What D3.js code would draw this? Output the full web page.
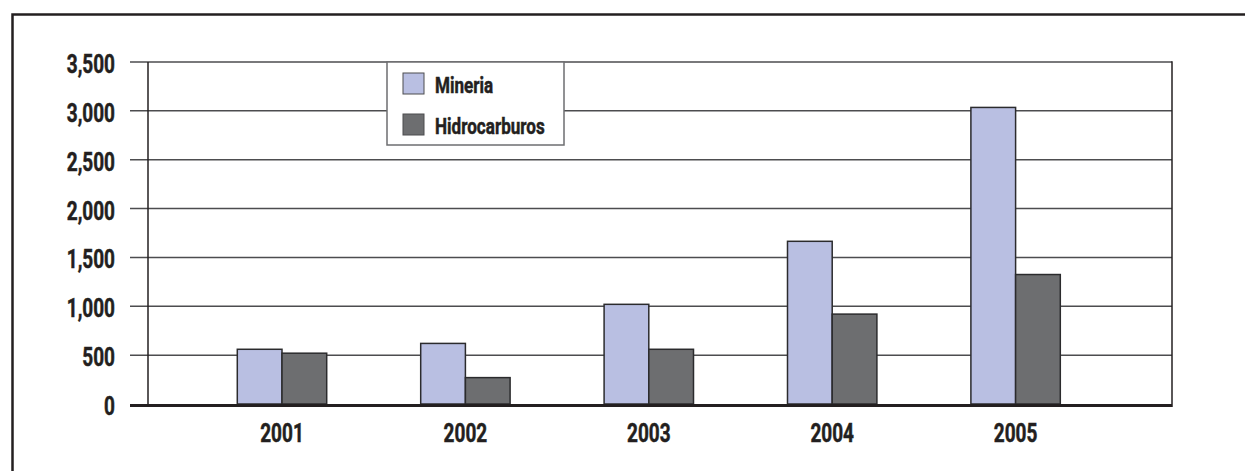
<!DOCTYPE html>
<html>
<head>
<meta charset="utf-8">
<script src="https://cdn.jsdelivr.net/npm/d3@7"></script>
<style>
  html, body { margin: 0; padding: 0; background: #fff; }
  svg text { font-family: Roboto, "DejaVu Sans Condensed", sans-serif; font-weight: bold; fill: #231f20; stroke: #231f20; stroke-width: 0.5px; }
</style>
</head>
<body>
<div id="chart"></div>
<script>
const years = ['2001', '2002', '2003', '2004', '2005'];
const seriesNames = ['Mineria', 'Hidrocarburos'];
const mineria = [560, 620, 1020, 1665, 3035];
const hidrocarburos = [520, 270, 560, 920, 1325];
const yTicks = [0, 500, 1000, 1500, 2000, 2500, 3000, 3500];

const width = 1245;
const height = 471;
const colors = ['#b9bfe2', '#6d6e70'];
const squeeze = 'scale(0.76,1)'; // the source uses a condensed face

const plotLeft = 148, plotRight = 1172, plotTop = 62, plotBottom = 404;

const svg = d3.select('#chart')
  .append('svg')
  .attr('width', width)
  .attr('height', height);

// outer frame (only top + left edges visible)
svg.append('path')
  .attr('d', 'M12.5,' + height + ' V14.5 H' + width)
  .attr('fill', 'none')
  .attr('stroke', '#231f20')
  .attr('stroke-width', 2.5);

const y = d3.scaleLinear()
  .domain([0, 3500])
  .range([plotBottom, plotTop]);

const x0 = d3.scaleBand()
  .domain(years)
  .range([190.3, 1107.3])
  .paddingInner(0.5125)
  .paddingOuter(0.25625);

const x1 = d3.scaleBand()
  .domain(seriesNames)
  .range([0, x0.bandwidth()]);

// gridlines + left ticks
svg.append('g')
  .selectAll('line')
  .data(yTicks.filter(function (d) { return d > 0; }))
  .enter()
  .append('line')
  .attr('x1', 130)
  .attr('x2', plotRight)
  .attr('y1', function (d) { return y(d); })
  .attr('y2', function (d) { return y(d); })
  .attr('stroke', '#4d4d4f')
  .attr('stroke-width', 1.5);

// y labels
const yAxis = d3.axisLeft(y)
  .tickValues(yTicks)
  .tickSize(0)
  .tickPadding(0)
  .tickFormat(d3.format(','));

svg.append('g')
  .attr('transform', 'translate(115,0)')
  .call(yAxis)
  .call(function (g) { g.select('.domain').remove(); })
  .selectAll('text')
  .attr('font-size', 25)
  .attr('dy', '0.42em')
  .attr('transform', squeeze)
  .attr('font-family', null);

// vertical axis and right edge of plot
svg.append('line')
  .attr('x1', plotLeft).attr('x2', plotLeft)
  .attr('y1', plotTop).attr('y2', plotBottom)
  .attr('stroke', '#231f20')
  .attr('stroke-width', 1.5);

svg.append('line')
  .attr('x1', plotRight).attr('x2', plotRight)
  .attr('y1', plotTop - 0.75).attr('y2', plotBottom)
  .attr('stroke', '#231f20')
  .attr('stroke-width', 1.5);

// bars
const rows = years.map(function (yr, i) {
  return { year: yr, values: [mineria[i], hidrocarburos[i]] };
});

const groups = svg.append('g')
  .selectAll('g')
  .data(rows)
  .enter()
  .append('g')
  .attr('transform', function (d) { return 'translate(' + x0(d.year) + ',0)'; });

groups.selectAll('rect')
  .data(function (d) {
    return d.values.map(function (v, j) { return { name: seriesNames[j], value: v, idx: j }; });
  })
  .enter()
  .append('rect')
  .attr('x', function (d) { return x1(d.name); })
  .attr('y', function (d) { return y(d.value); })
  .attr('width', x1.bandwidth())
  .attr('height', function (d) { return y(0) - y(d.value); })
  .attr('fill', function (d) { return colors[d.idx]; })
  .attr('stroke', '#2b2b2d')
  .attr('stroke-width', 1.5);

// baseline
svg.append('line')
  .attr('x1', 130).attr('x2', plotRight + 0.75)
  .attr('y1', y(0) + 1.5).attr('y2', y(0) + 1.5)
  .attr('stroke', '#231f20')
  .attr('stroke-width', 3);

// x labels
const xAxis = d3.axisBottom(x0)
  .tickSize(0)
  .tickPadding(0);

svg.append('g')
  .attr('transform', 'translate(0,' + 442 + ')')
  .call(xAxis)
  .call(function (g) { g.select('.domain').remove(); })
  .selectAll('text')
  .attr('font-size', 25)
  .attr('dy', 0)
  .attr('transform', squeeze)
  .attr('font-family', null);

// legend
const legend = svg.append('g')
  .attr('transform', 'translate(387,62)');

legend.append('rect')
  .attr('width', 177)
  .attr('height', 83)
  .attr('fill', '#fff')
  .attr('stroke', '#6d6e70')
  .attr('stroke-width', 1.5);

const items = legend.selectAll('g.item')
  .data(seriesNames)
  .enter()
  .append('g')
  .attr('class', 'item')
  .attr('transform', function (d, i) { return 'translate(16,' + (11 + i * 41) + ')'; });

items.append('rect')
  .attr('width', 21)
  .attr('height', 21)
  .attr('fill', function (d, i) { return colors[i]; })
  .attr('stroke', '#4d4d4f')
  .attr('stroke-width', 1);

items.append('g')
  .attr('transform', 'translate(32,20) ' + squeeze)
  .append('text')
  .attr('font-size', 22.5)
  .text(function (d) { return d; });
</script>
</body>
</html>
